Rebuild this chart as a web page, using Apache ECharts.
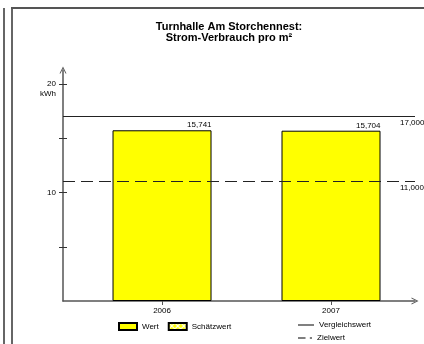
<!DOCTYPE html>
<html>
<head>
<meta charset="utf-8">
<script src="https://cdn.jsdelivr.net/npm/echarts@6/dist/echarts.min.js"></script>
<style>html,body{margin:0;padding:0;background:#fff}#c{width:424px;height:344px}</style>
</head>
<body>
<div id="c"></div>
<script>
var titleLines = ['Turnhalle Am Storchennest:', 'Strom-Verbrauch pro m²'];
var categories = ['2006', '2007'];
var wertValues = [15.741, 15.704];
var schaetzValues = [];
var vergleichswert = [17];
var zielwert = [11];
var yTickValues = [5, 10, 15, 20];
var yLabelValues = [10, 20];
var yUnit = 'kWh';

function fmtNum(v) {
  return v.toFixed(3).replace('.', ',');
}

var chart = echarts.init(document.getElementById('c'), null, {renderer: 'canvas'});

// hatch pattern for Schätzwert
var pc = document.createElement('canvas');
pc.width = 6; pc.height = 6;
var pctx = pc.getContext('2d');
pctx.fillStyle = '#ffff00'; pctx.fillRect(0, 0, 6, 6);
pctx.strokeStyle = '#ffffff'; pctx.lineWidth = 1.2;
pctx.beginPath(); pctx.moveTo(0, 0); pctx.lineTo(6, 6); pctx.moveTo(6, 0); pctx.lineTo(0, 6); pctx.stroke();

var FONT = 'Liberation Sans, Arial, sans-serif';
var chevronUp = 'path://M0,10 L5,0 L10,10 L8.6,10 L5,2.8 L1.4,10 Z';
var legendText = {fontFamily: FONT, fontSize: 8, color: '#000'};

var option = {
  animation: false,
  backgroundColor: '#fff',
  title: {
    text: titleLines.join('\n'),
    left: 224, textAlign: 'center', top: 16,
    textStyle: {fontFamily: FONT, fontSize: 11, fontWeight: 'bold', color: '#000', lineHeight: 11}
  },
  graphic: [
    {type: 'line', shape: {x1: 4, y1: 8, x2: 4, y2: 344}, style: {stroke: '#666', lineWidth: 2}},
    {type: 'line', shape: {x1: 12, y1: 8, x2: 12, y2: 344}, style: {stroke: '#666', lineWidth: 2}},
    {type: 'line', shape: {x1: 11, y1: 8, x2: 424, y2: 8}, style: {stroke: '#555', lineWidth: 2}}
  ],
  legend: [
    {
      data: ['Wert', 'Schätzwert'],
      left: 118, top: 322, itemWidth: 18, itemHeight: 7, itemGap: 9,
      icon: 'rect', padding: 0,
      textStyle: legendText,
      selectedMode: false
    },
    {
      data: [{name: 'Vergleichswert', icon: 'path://M0,0 L16,0 L16,1 L0,1 Z'}],
      left: 298, top: 321, itemWidth: 16, itemHeight: 1.2, padding: 0,
      textStyle: legendText,
      selectedMode: false
    },
    {
      data: [{name: 'Zielwert', icon: 'path://M0,0 L7,0 L7,1 L0,1 Z M11,0 L13,0 L13,1 L11,1 Z'}],
      left: 298, top: 334, itemWidth: 14, itemHeight: 1.2, padding: 0,
      textStyle: legendText,
      selectedMode: false
    }
  ],
  grid: {left: 63, right: 9, top: 70, bottom: 43, containLabel: false},
  xAxis: {
    type: 'value', min: -0.586, max: 1.497,
    splitLine: {show: false},
    axisLine: {onZero: false, lineStyle: {color: '#555', width: 1.5}, symbol: ['none', chevronUp], symbolSize: [8, 7], symbolOffset: [0, 0]},
    axisTick: {show: true, customValues: [0, 1], length: 4, lineStyle: {color: '#555'}},
    axisLabel: {
      customValues: [0, 1], margin: 6,
      formatter: function (v) { return categories[Math.round(v)] || ''; },
      fontFamily: FONT, fontSize: 8, color: '#000'
    }
  },
  yAxis: [
    {
      type: 'value', min: 0, max: 21.3,
      splitLine: {show: false},
      axisLine: {show: true, onZero: false, lineStyle: {color: '#555', width: 1.5}, symbol: ['none', chevronUp], symbolSize: [8, 7]},
      axisTick: {show: true, customValues: yTickValues, length: 4, lineStyle: {color: '#333'}},
      axisLabel: {
        customValues: yLabelValues, margin: 7,
        formatter: function (v) { return v === 20 ? ' \n20\n' + yUnit : String(v); },
        fontFamily: FONT, fontSize: 8, color: '#000', lineHeight: 10, align: 'right'
      }
    },
    {
      type: 'value', min: 0, max: 21.3, position: 'left',
      splitLine: {show: false},
      axisLine: {show: false, onZero: false},
      axisTick: {show: true, inside: true, customValues: yTickValues, length: 4, lineStyle: {color: '#333'}},
      axisLabel: {show: false}
    }
  ],
  series: [
    {
      name: 'Wert', type: 'bar', barWidth: 99, barGap: '-100%',
      data: wertValues.map(function (v, i) { return [i, v]; }),
      itemStyle: {color: '#ffff00', borderColor: '#000', borderWidth: 1},
      label: {
        show: true, position: ['100%', -1], align: 'right', verticalAlign: 'bottom',
        formatter: function (p) { return fmtNum(p.value[1]); },
        fontFamily: FONT, fontSize: 8, color: '#000'
      }
    },
    {
      name: 'Schätzwert', type: 'bar', barWidth: 99, barGap: '-100%',
      data: schaetzValues,
      itemStyle: {color: {image: pc, repeat: 'repeat'}, borderColor: '#000', borderWidth: 1}
    },
    {
      name: 'Vergleichswert', type: 'line', data: [],
      itemStyle: {color: '#000'}, lineStyle: {color: '#000', width: 1},
      markLine: {
        silent: true, symbol: ['none', 'none'],
        lineStyle: {color: '#222', width: 1, type: 'solid'},
        label: {
          show: true, position: 'insideEndBottom', align: 'left', distance: [15, 2],
          formatter: function (p) { return fmtNum(p.value); },
          fontFamily: FONT, fontSize: 8, color: '#000'
        },
        data: vergleichswert.map(function (v) { return {yAxis: v}; })
      }
    },
    {
      name: 'Zielwert', type: 'line', data: [],
      itemStyle: {color: '#000'}, lineStyle: {color: '#000', width: 1, type: [6, 3]},
      markLine: {
        silent: true, symbol: ['none', 'none'],
        lineStyle: {color: '#222', width: 1, type: [12, 6]},
        label: {
          show: true, position: 'insideEndBottom', align: 'left', distance: [15, 2],
          formatter: function (p) { return fmtNum(p.value); },
          fontFamily: FONT, fontSize: 8, color: '#000'
        },
        data: zielwert.map(function (v) { return {yAxis: v}; })
      }
    }
  ]
};
chart.setOption(option);
</script>
</body>
</html>
